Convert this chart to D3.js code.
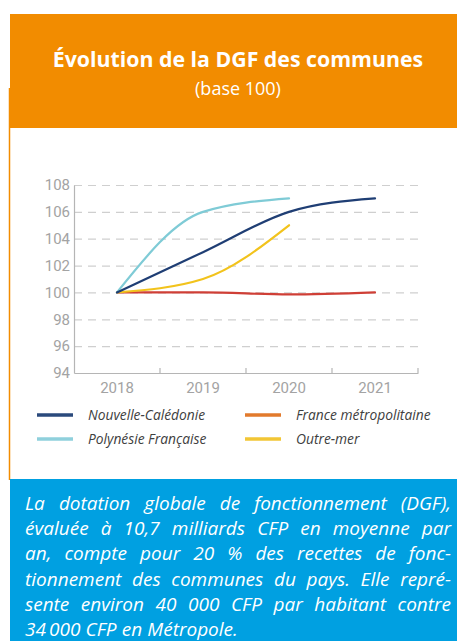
<!DOCTYPE html>
<html lang="fr">
<head>
<meta charset="UTF-8">
<title>Évolution de la DGF des communes</title>
<script src="https://d3js.org/d3.v7.min.js"></script>
<style>
  body { margin: 0; background: #fff; overflow: hidden; }
  svg { display: block; }
</style>
</head>
<body>
<div id="chart"></div>
<script>
// data
var years = ["2018", "2019", "2020", "2021"];
var yTicks = [94, 96, 98, 100, 102, 104, 106, 108];
var caledonie = [100, 103, 106, 107];
var polynesie = [100, 106, 107];
var metropole = [100, 100, 99.85, 100];
var outremer = [100, 101, 105];
var seriesNames = ["Nouvelle-Calédonie", "Polynésie Française", "France métropolitaine", "Outre-mer"];

var title = "Évolution de la DGF des communes";
var subtitle = "(base 100)";
var paragraph = [
  "La dotation globale de fonctionnement (DGF),",
  "évaluée à 10,7 milliards CFP en moyenne par",
  "an, compte pour 20 % des recettes de fonc-",
  "tionnement des communes du pays. Elle repré-",
  "sente environ 40 000 CFP par habitant contre",
  "34\u2009000 CFP en Métropole."
];

var W = 457, H = 641;
var orange = "#f28c00", blue = "#00a0e1";

var svg = d3.select("#chart").append("svg")
  .attr("width", W).attr("height", H);

// header
svg.append("rect").attr("x", 10).attr("y", 14).attr("width", W - 10).attr("height", 114).attr("fill", orange);
svg.append("line").attr("x1", 9.5).attr("x2", 9.5).attr("y1", 88).attr("y2", 480)
  .attr("stroke", orange).attr("stroke-width", 1.5);

svg.append("text").attr("x", 238).attr("y", 67).attr("text-anchor", "middle")
  .attr("fill", "#fff").attr("font-family", "'Open Sans', sans-serif")
  .attr("font-weight", 700).attr("font-size", 21.3).text(title);
svg.append("text").attr("x", 238).attr("y", 95).attr("text-anchor", "middle")
  .attr("fill", "#fff").attr("font-family", "'Open Sans', sans-serif")
  .attr("font-size", 18).text(subtitle);

// chart
var x = d3.scaleBand().domain(years).range([74, 418]);
var y = d3.scaleLinear().domain([94, 108]).range([373, 185]);
var px = function(d, i) { return x(years[i]) + x.bandwidth() / 2; };

var grid = svg.append("g");
grid.selectAll("line").data(yTicks.slice(1)).enter().append("line")
  .attr("x1", 74).attr("x2", 418)
  .attr("y1", function(d) { return y(d) + 0.5; }).attr("y2", function(d) { return y(d) + 0.5; })
  .attr("stroke", "#cfcfcf").attr("stroke-width", 1.2).attr("stroke-dasharray", "8,6");

var yAxis = svg.append("g").attr("transform", "translate(74,0)")
  .call(d3.axisLeft(y).tickValues(yTicks).tickSize(0).tickPadding(4));
yAxis.select(".domain").attr("stroke", "#b5b5b5").attr("stroke-width", 1.2);
yAxis.selectAll("text").attr("fill", "#a3a3a3").attr("font-family", "Roboto, sans-serif")
  .attr("font-size", 15);

var xAxis = svg.append("g").attr("transform", "translate(0,373)")
  .call(d3.axisBottom(x).tickSize(0).tickPadding(9));
xAxis.select(".domain").attr("stroke", "#b5b5b5").attr("stroke-width", 1.2);
xAxis.selectAll("text").attr("fill", "#a3a3a3").attr("font-family", "Roboto, sans-serif")
  .attr("font-size", 15);
// small upward ticks at band edges
xAxis.selectAll(".edge").data(years.slice(1).concat(["end"])).enter().append("line")
  .attr("class", "edge")
  .attr("x1", function(d) { return d === "end" ? x.range()[1] : x(d); })
  .attr("x2", function(d) { return d === "end" ? x.range()[1] : x(d); })
  .attr("y1", 0).attr("y2", -5).attr("stroke", "#b5b5b5").attr("stroke-width", 1.2);

var line = d3.line().x(px).y(function(d) { return y(d); }).curve(d3.curveMonotoneX);

var series = [
  { values: metropole, color: "#cf3f36" },
  { values: outremer, color: "#f2c31c" },
  { values: polynesie, color: "#7fcbd6" },
  { values: caledonie, color: "#1f3e74" }
];
svg.selectAll(".serie").data(series).enter().append("path")
  .attr("class", "serie")
  .attr("d", function(s) { return line(s.values); })
  .attr("fill", "none").attr("stroke", function(s) { return s.color; })
  .attr("stroke-width", 2.2).attr("stroke-linecap", "round");

// legend
var legend = [
  { name: seriesNames[0], color: "#2b4a7c", lx: 37, ly: 415 },
  { name: seriesNames[1], color: "#8fd0dc", lx: 37, ly: 439 },
  { name: seriesNames[2], color: "#e27a2c", lx: 245, ly: 415 },
  { name: seriesNames[3], color: "#f2c635", lx: 245, ly: 439 }
];
var lg = svg.selectAll(".leg").data(legend).enter().append("g").attr("class", "leg")
  .attr("transform", function(d) { return "translate(" + d.lx + "," + d.ly + ")"; });
lg.append("line").attr("x1", 0).attr("x2", 36).attr("y1", 0).attr("y2", 0)
  .attr("stroke", function(d) { return d.color; }).attr("stroke-width", 3.5);
lg.append("text").attr("x", 51).attr("y", 5)
  .attr("fill", "#404040").attr("font-family", "'Open Sans', sans-serif")
  .attr("font-style", "italic").attr("font-size", 13.8).text(function(d) { return d.name; });

// blue text box
svg.append("rect").attr("x", 10).attr("y", 479).attr("width", W - 10).attr("height", H - 479).attr("fill", blue);

var left = 25, right = 451, lineH = 25.2, base = 510;
var fontSize = 19;
var para = svg.append("g").attr("fill", "#fff").attr("font-family", "'Open Sans', sans-serif")
  .attr("font-style", "italic").attr("font-size", fontSize);

// measure words, shrink the font if a justified line would not fit
var measured = paragraph.map(function(txt) {
  return txt.split(" ").map(function(w) {
    var t = para.append("text").text(w);
    var wd = t.node().getComputedTextLength();
    t.remove();
    return wd;
  });
});
var scale = d3.min(measured.slice(0, -1), function(ws) {
  return Math.min(1, (right - left - (ws.length - 1) * 4.5) / d3.sum(ws));
});
fontSize = fontSize * scale;
para.attr("font-size", fontSize);

paragraph.forEach(function(txt, li) {
  var words = txt.split(" ");
  var by = base + li * lineH;
  var widths = measured[li].map(function(w) { return w * scale; });
  var total = d3.sum(widths);
  var last = li === paragraph.length - 1;
  var gap = last ? fontSize * 0.27 : (right - left - total) / (words.length - 1);
  var cx = left;
  words.forEach(function(w, i) {
    para.append("text").attr("x", cx).attr("y", by).text(w);
    cx += widths[i] + gap;
  });
});
</script>
</body>
</html>
